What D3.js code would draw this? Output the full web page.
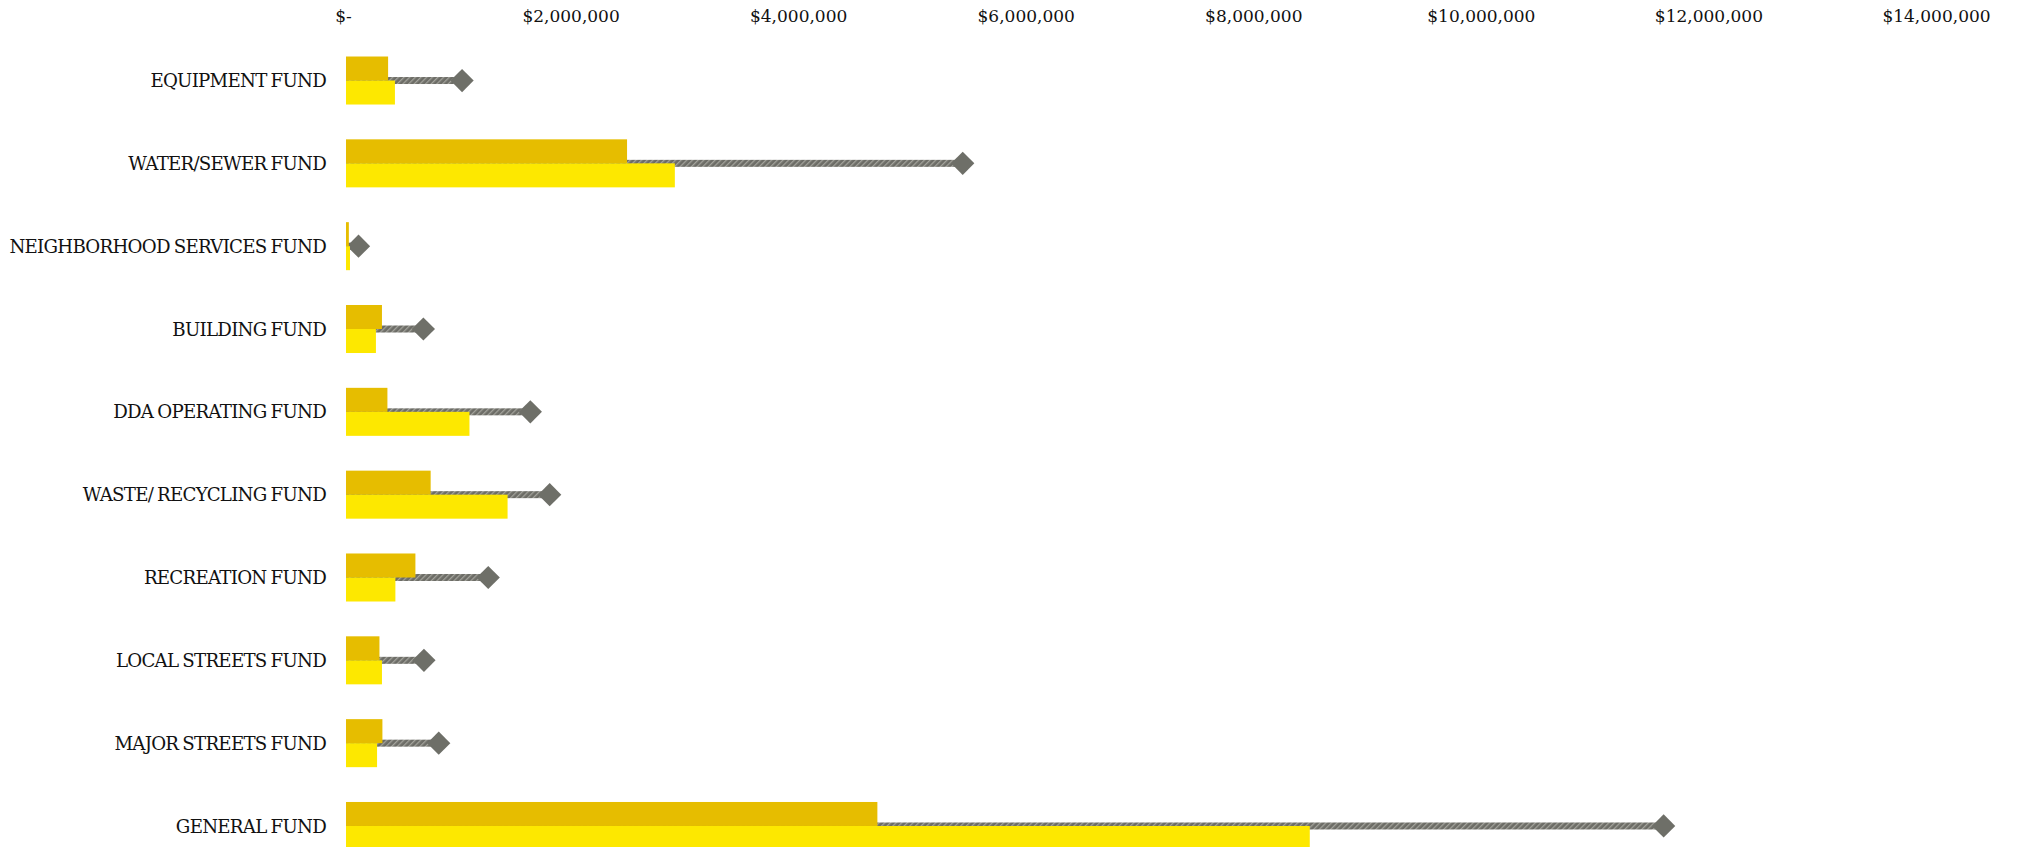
<!DOCTYPE html>
<html>
<head>
<meta charset="utf-8">
<script src="https://cdn.jsdelivr.net/npm/d3@7"></script>
<style>
  html, body { margin: 0; padding: 0; background: #ffffff; }
  svg { display: block; }
  .cat { font-family: "DejaVu Serif", serif; font-size: 18.2px; fill: #111111; letter-spacing: -0.75px; word-spacing: -1px; }
  .tick text { font-family: "DejaVu Serif", serif; font-size: 17px; fill: #111111; }
</style>
</head>
<body>
<script>
// Funds, top to bottom
const categories = [
  "EQUIPMENT FUND",
  "WATER/SEWER FUND",
  "NEIGHBORHOOD SERVICES FUND",
  "BUILDING FUND",
  "DDA OPERATING FUND",
  "WASTE/ RECYCLING FUND",
  "RECREATION FUND",
  "LOCAL STREETS FUND",
  "MAJOR STREETS FUND",
  "GENERAL FUND"
];

// Upper (dark gold) bar of each fund
const barDark = [370000, 2470000, 25000, 316000, 364000, 744000, 610000, 294000, 320000, 4670000];
// Lower (yellow) bar of each fund
const barLight = [430000, 2890000, 35000, 263000, 1085000, 1420000, 434000, 316000, 273000, 8470000];
// Gray line ending in a diamond
const markerValues = [1020000, 5420000, 110000, 680000, 1620000, 1790000, 1250000, 685000, 815000, 11580000];

const tickValues = [0, 2000000, 4000000, 6000000, 8000000, 10000000, 12000000, 14000000];

const W = 2017, H = 847;

const svg = d3.select("body").append("svg")
  .attr("width", W).attr("height", H);

// Diagonal hatch used for the gray connector lines
const defs = svg.append("defs");
const pat = defs.append("pattern")
  .attr("id", "hatch").attr("patternUnits", "userSpaceOnUse")
  .attr("width", 4).attr("height", 4)
  .attr("patternTransform", "rotate(45)");
pat.append("rect").attr("width", 4).attr("height", 4).attr("fill", "#6c6c66");
pat.append("rect").attr("width", 1.3).attr("height", 4).attr("fill", "#a3a39c");

const x = d3.scaleLinear().domain([0, 14000000]).range([346, 1939]);

const y = d3.scaleBand().domain(categories).range([39.1, 867.4]).padding(0);

const sub = d3.scaleBand().domain(["dark", "light"])
  .range([0, y.bandwidth()]).paddingInner(0).paddingOuter(0.725);

// Top axis: labels only
const fmt = v => v === 0 ? "$-" : "$" + d3.format(",")(v);
const axis = svg.append("g")
  .attr("transform", "translate(-3,22)")
  .call(d3.axisTop(x).tickValues(tickValues).tickFormat(fmt).tickSize(0).tickPadding(0));
axis.select(".domain").remove();

const rows = svg.append("g").selectAll("g")
  .data(categories.map((c, i) => ({
    cat: c, dark: barDark[i], light: barLight[i], marker: markerValues[i]
  })))
  .join("g")
  .attr("transform", d => `translate(0,${y(d.cat)})`);

const midY = sub("light");

// Connector line drawn behind the bars
rows.append("rect")
  .attr("x", x(0))
  .attr("y", midY - 3.5)
  .attr("width", d => x(d.marker) - x(0))
  .attr("height", 7)
  .attr("fill", "url(#hatch)");

// Diamond marker
rows.append("path")
  .attr("d", d3.symbol().type(d3.symbolSquare).size(270))
  .attr("transform", d => `translate(${x(d.marker)},${midY}) rotate(45)`)
  .attr("fill", "#6e6f68");

rows.append("rect")
  .attr("x", x(0))
  .attr("y", sub("dark"))
  .attr("width", d => x(d.dark) - x(0))
  .attr("height", sub.bandwidth())
  .attr("fill", "#e6bd00");

rows.append("rect")
  .attr("x", x(0))
  .attr("y", sub("light"))
  .attr("width", d => x(d.light) - x(0))
  .attr("height", sub.bandwidth())
  .attr("fill", "#fde800");

// Category labels
rows.append("text")
  .attr("class", "cat")
  .attr("x", 326)
  .attr("y", midY)
  .attr("dy", "0.36em")
  .attr("text-anchor", "end")
  .text(d => d.cat);
</script>
</body>
</html>
